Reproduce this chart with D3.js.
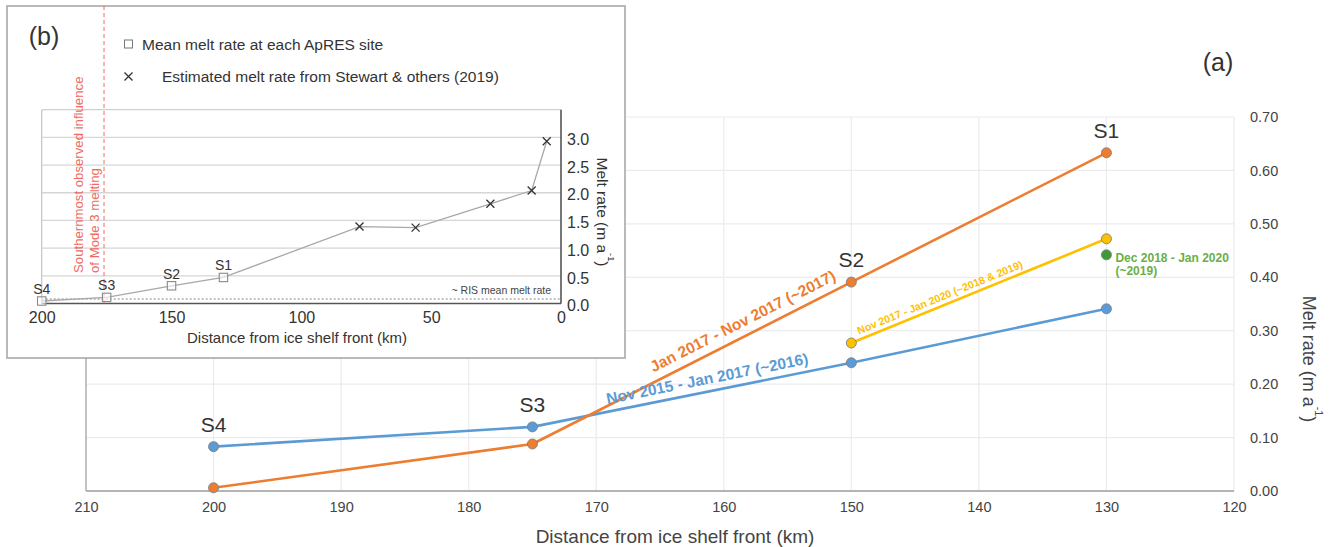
<!DOCTYPE html>
<html><head><meta charset="utf-8">
<script src="https://cdn.jsdelivr.net/npm/d3@7"></script>
<style>
body{margin:0;background:#fff;}
svg{display:block;font-family:"Liberation Sans",Arial,Helvetica,sans-serif;}
</style>
</head><body>
<svg id="chart" width="1331" height="547"></svg>
<script>
// ---------- data: main panel (a) ----------
const sites = ["S4", "S3", "S2", "S1"];
const siteDistance = [200, 175, 150, 130];
const melt2016 = [0.083, 0.120, 0.240, 0.341];
const melt2017 = [0.006, 0.088, 0.391, 0.633];
const melt2018to2019 = [null, null, 0.277, 0.472];
const melt2019 = [null, null, null, 0.442];
const seriesLabels = ["Nov 2015 - Jan 2017 (~2016)", "Jan 2017 - Nov 2017 (~2017)", "Nov 2017 - Jan 2020 (~2018 & 2019)"];
const greenLabel = ["Dec 2018 - Jan 2020", "(~2019)"];
const xTicks = [210, 200, 190, 180, 170, 160, 150, 140, 130, 120];
const yTicks = [0, 0.1, 0.2, 0.3, 0.4, 0.5, 0.6, 0.7];

// ---------- data: inset panel (b) ----------
const insetSiteMean = [0.045, 0.11, 0.32, 0.47];
const stewartDistance = [77.6, 56.0, 27.2, 11.3, 5.5];
const stewartMelt = [1.39, 1.37, 1.80, 2.04, 2.93];
const insetXTicks = [200, 150, 100, 50, 0];
const insetYTicks = [0, 0.5, 1.0, 1.5, 2.0, 2.5, 3.0];
const insetGrid = [0.5, 1.0, 1.5, 2.0, 2.5, 3.0];
const risMeanMelt = 0.08;
const mode3Distance = 176;

const C = {blue: "#5b9bd5", orange: "#ed7d31", yellow: "#ffc000", green: "#6aaf45", greenDot: "#3f9a35",
           grid: "#ebebf0", axis: "#b4b4b4", text: "#444", red: "#ef6a60"};

const svg = d3.select("#chart");

// ================= MAIN PANEL =================
const x = d3.scaleLinear().domain([210, 120]).range([86, 1234]);
const y = d3.scaleLinear().domain([0, 0.7]).range([491, 117]);
const main = svg.append("g");

// gridlines
main.append("g").selectAll("line").data(yTicks.filter(d => d > 0)).join("line")
  .attr("x1", x(210)).attr("x2", x(120)).attr("y1", d => y(d)).attr("y2", d => y(d))
  .attr("stroke", C.grid).attr("stroke-width", 1.2);
main.append("g").selectAll("line").data(xTicks.filter(d => d !== 210)).join("line")
  .attr("x1", d => x(d)).attr("x2", d => x(d)).attr("y1", y(0.7)).attr("y2", y(0))
  .attr("stroke", C.grid).attr("stroke-width", 1.2);
// frame lines
main.append("line").attr("x1", x(210)).attr("x2", x(210)).attr("y1", y(0.7)).attr("y2", y(0))
  .attr("stroke", C.axis).attr("stroke-width", 1.6);
main.append("line").attr("x1", x(210)).attr("x2", x(120)).attr("y1", y(0)).attr("y2", y(0))
  .attr("stroke", C.axis).attr("stroke-width", 1.8);

// axes (labels only)
const xAxis = main.append("g").attr("transform", `translate(0,${y(0)})`)
  .call(d3.axisBottom(x).tickValues(xTicks).tickSize(0).tickPadding(11).tickFormat(d3.format("d")));
xAxis.select(".domain").remove();
xAxis.selectAll("text").attr("font-size", 14.5).attr("fill", C.text).attr("font-family", "Liberation Sans, Arial, sans-serif");

const yAxis = main.append("g").attr("transform", `translate(${x(120)},0)`)
  .call(d3.axisRight(y).tickValues(yTicks).tickSize(0).tickPadding(16).tickFormat(d3.format(".2f")));
yAxis.select(".domain").remove();
yAxis.selectAll("text").attr("font-size", 14.5).attr("fill", C.text).attr("font-family", "Liberation Sans, Arial, sans-serif");

// axis titles
main.append("text").attr("x", 675).attr("y", 543).attr("text-anchor", "middle")
  .attr("font-size", 19).attr("fill", C.text).text("Distance from ice shelf front (km)");
const yt = main.append("text").attr("transform", "translate(1309,359) rotate(90)")
  .attr("text-anchor", "middle").attr("dominant-baseline", "central")
  .attr("font-size", 18).attr("fill", C.text);
yt.append("tspan").text("Melt rate (m a");
yt.append("tspan").attr("font-size", "0.6em").attr("dy", "-0.9em").text("-1");
yt.append("tspan").attr("dy", "0.54em").text(")");

// "(a)"
main.append("text").attr("x", 1218).attr("y", 71).attr("text-anchor", "middle")
  .attr("font-size", 25).attr("fill", "#333").text("(a)");

// series
function seriesData(vals) {
  return siteDistance.map((d, i) => ({d, v: vals[i]})).filter(p => p.v !== null);
}
const line = d3.line().x(p => x(p.d)).y(p => y(p.v));
const series = [
  {vals: melt2016, color: C.blue, dot: C.blue},
  {vals: melt2017, color: C.orange, dot: C.orange},
  {vals: melt2018to2019, color: C.yellow, dot: C.yellow},
  {vals: melt2019, color: C.green, dot: C.greenDot}
];
series.forEach(s => {
  const pts = seriesData(s.vals);
  if (pts.length > 1)
    main.append("path").datum(pts).attr("d", line).attr("fill", "none")
      .attr("stroke", s.color).attr("stroke-width", 2.6).attr("stroke-linejoin", "round");
});
series.forEach(s => {
  main.append("g").selectAll("circle").data(seriesData(s.vals)).join("circle")
    .attr("cx", p => x(p.d)).attr("cy", p => y(p.v)).attr("r", 5)
    .attr("fill", s.dot).attr("stroke", "#808080").attr("stroke-width", 0.9);
});

// site labels (above the highest point at each site)
sites.forEach((s, i) => {
  const top = Math.max(melt2016[i], melt2017[i]);
  main.append("text").attr("x", x(siteDistance[i])).attr("y", y(top) - 15)
    .attr("text-anchor", "middle").attr("font-size", 21).attr("fill", "#333").text(s);
});

// labels along lines
function labelOnSegment(vals, i0, i1, dAt, text, color, size, dy) {
  const x0 = x(siteDistance[i0]), y0 = y(vals[i0]), x1 = x(siteDistance[i1]), y1 = y(vals[i1]);
  const ang = Math.atan2(y1 - y0, x1 - x0) * 180 / Math.PI;
  const t = (dAt - siteDistance[i0]) / (siteDistance[i1] - siteDistance[i0]);
  const px = x0 + t * (x1 - x0), py = y0 + t * (y1 - y0);
  main.append("text").attr("transform", `translate(${px},${py}) rotate(${ang})`)
    .attr("text-anchor", "middle").attr("dy", dy).attr("font-size", size)
    .attr("font-weight", "bold").attr("fill", color).text(text);
}
labelOnSegment(melt2016, 1, 2, 161.1, seriesLabels[0], C.blue, 15.5, -7.5);
labelOnSegment(melt2017, 1, 2, 158.0, seriesLabels[1], C.orange, 15.5, -9);
labelOnSegment(melt2018to2019, 2, 3, 142.8, seriesLabels[2], C.yellow, 10.6, -5);

// green label
const gl = main.append("text").attr("font-size", 12).attr("font-weight", "bold").attr("fill", C.green);
greenLabel.forEach((t, i) => {
  gl.append("tspan").attr("x", x(130) + 9).attr("y", y(melt2019[3]) + 7 + i * 13.5).text(t);
});

// ================= INSET PANEL =================
const ins = svg.append("g");
ins.append("rect").attr("x", 7).attr("y", 6).attr("width", 618).attr("height", 352)
  .attr("fill", "#fff").attr("stroke", "#a3a3a3").attr("stroke-width", 1.5);

const xi = d3.scaleLinear().domain([200, 0]).range([41.7, 561]);
const yi = d3.scaleLinear().domain([0, 3.5]).range([303.5, 109.7]);

// grid + frame
ins.append("g").selectAll("line").data(insetGrid).join("line")
  .attr("x1", xi(200)).attr("x2", xi(0)).attr("y1", d => yi(d)).attr("y2", d => yi(d))
  .attr("stroke", "#d6d6d6").attr("stroke-width", 1.3);
ins.append("line").attr("x1", xi(200)).attr("x2", xi(0)).attr("y1", yi(3.5)).attr("y2", yi(3.5))
  .attr("stroke", "#d0d0d0").attr("stroke-width", 1.3);
ins.append("line").attr("x1", xi(200)).attr("x2", xi(200)).attr("y1", yi(3.5)).attr("y2", yi(0))
  .attr("stroke", "#c8c8c8").attr("stroke-width", 1.3);
ins.append("line").attr("x1", xi(0)).attr("x2", xi(0)).attr("y1", yi(3.5)).attr("y2", yi(0))
  .attr("stroke", "#555").attr("stroke-width", 1.6);
ins.append("line").attr("x1", xi(200)).attr("x2", xi(0)).attr("y1", yi(0)).attr("y2", yi(0))
  .attr("stroke", "#555").attr("stroke-width", 1.6);

// RIS mean dotted line
ins.append("line").attr("x1", xi(200)).attr("x2", xi(0)).attr("y1", yi(risMeanMelt)).attr("y2", yi(risMeanMelt))
  .attr("stroke", "#888").attr("stroke-width", 1.1).attr("stroke-dasharray", "2,2");
ins.append("text").attr("x", 551).attr("y", yi(risMeanMelt) - 5).attr("text-anchor", "end")
  .attr("font-size", 10.5).attr("fill", "#444").text("~ RIS mean melt rate");

// red dashed line + text
ins.append("line").attr("x1", xi(mode3Distance)).attr("x2", xi(mode3Distance)).attr("y1", 6).attr("y2", yi(0))
  .attr("stroke", C.red).attr("stroke-width", 1).attr("stroke-dasharray", "4,3");
["Southernmost observed influence", "of Mode 3 melting"].forEach((t, i) => {
  ins.append("text").attr("transform", `translate(${78 + i * 16.3},273) rotate(-90)`)
    .attr("dominant-baseline", "central").attr("font-size", 13.2).attr("fill", C.red).text(t);
});

// axes
const xiAxis = ins.append("g").attr("transform", `translate(0,${yi(0)})`)
  .call(d3.axisBottom(xi).tickValues(insetXTicks).tickSize(0).tickPadding(8).tickFormat(d3.format("d")));
xiAxis.select(".domain").remove();
xiAxis.selectAll("text").attr("font-size", 16).attr("fill", "#333").attr("font-family", "Liberation Sans, Arial, sans-serif");
const yiAxis = ins.append("g").attr("transform", `translate(${xi(0)},0)`)
  .call(d3.axisRight(yi).tickValues(insetYTicks).tickSize(0).tickPadding(6).tickFormat(d3.format(".1f")));
yiAxis.select(".domain").remove();
yiAxis.selectAll("text").attr("font-size", 16).attr("fill", "#333").attr("dy", "0.45em").attr("font-family", "Liberation Sans, Arial, sans-serif");

ins.append("text").attr("x", 297).attr("y", 343).attr("text-anchor", "middle")
  .attr("font-size", 15).attr("fill", "#333").text("Distance from ice shelf front (km)");
const yit = ins.append("text").attr("transform", "translate(603,212) rotate(90)")
  .attr("text-anchor", "middle").attr("dominant-baseline", "central")
  .attr("font-size", 15.5).attr("fill", "#333");
yit.append("tspan").text("Melt rate (m a");
yit.append("tspan").attr("font-size", "0.6em").attr("dy", "-0.9em").text("-1");
yit.append("tspan").attr("dy", "0.54em").text(")");

// "(b)"
ins.append("text").attr("x", 44).attr("y", 45).attr("text-anchor", "middle")
  .attr("font-size", 25).attr("fill", "#333").text("(b)");

// connecting line through all points
const allPts = siteDistance.map((d, i) => ({d, v: insetSiteMean[i]}))
  .concat(stewartDistance.map((d, i) => ({d, v: stewartMelt[i]})));
ins.append("path").datum(allPts)
  .attr("d", d3.line().x(p => xi(p.d)).y(p => yi(p.v)))
  .attr("fill", "none").attr("stroke", "#a8a8a8").attr("stroke-width", 1.3);

// squares
ins.append("g").selectAll("rect").data(siteDistance.map((d, i) => ({d, v: insetSiteMean[i]}))).join("rect")
  .attr("x", p => xi(p.d) - 4.2).attr("y", p => yi(p.v) - 4.2).attr("width", 8.4).attr("height", 8.4)
  .attr("fill", "#fff").attr("fill-opacity", 0.6).attr("stroke", "#8a8a8a").attr("stroke-width", 1.1);
// site labels
sites.forEach((s, i) => {
  ins.append("text").attr("x", xi(siteDistance[i])).attr("y", yi(insetSiteMean[i]) - 7)
    .attr("text-anchor", "middle").attr("font-size", 14).attr("fill", "#333").text(s);
});
// crosses
const cross = "M-4,-4L4,4M-4,4L4,-4";
ins.append("g").selectAll("path").data(stewartDistance.map((d, i) => ({d, v: stewartMelt[i]}))).join("path")
  .attr("transform", p => `translate(${xi(p.d)},${yi(p.v)})`).attr("d", cross)
  .attr("stroke", "#333").attr("stroke-width", 1.3).attr("fill", "none");

// legend
ins.append("rect").attr("x", 124.5).attr("y", 40).attr("width", 8).attr("height", 8)
  .attr("fill", "#fff").attr("stroke", "#777").attr("stroke-width", 1);
ins.append("text").attr("x", 142).attr("y", 49.5).attr("font-size", 15.5).attr("fill", "#333")
  .text("Mean melt rate at each ApRES site");
ins.append("path").attr("transform", "translate(128.5,76.5)").attr("d", cross)
  .attr("stroke", "#333").attr("stroke-width", 1.3);
ins.append("text").attr("x", 162).attr("y", 82).attr("font-size", 15.5).attr("fill", "#333")
  .text("Estimated melt rate from Stewart & others (2019)");
</script>
</body></html>
